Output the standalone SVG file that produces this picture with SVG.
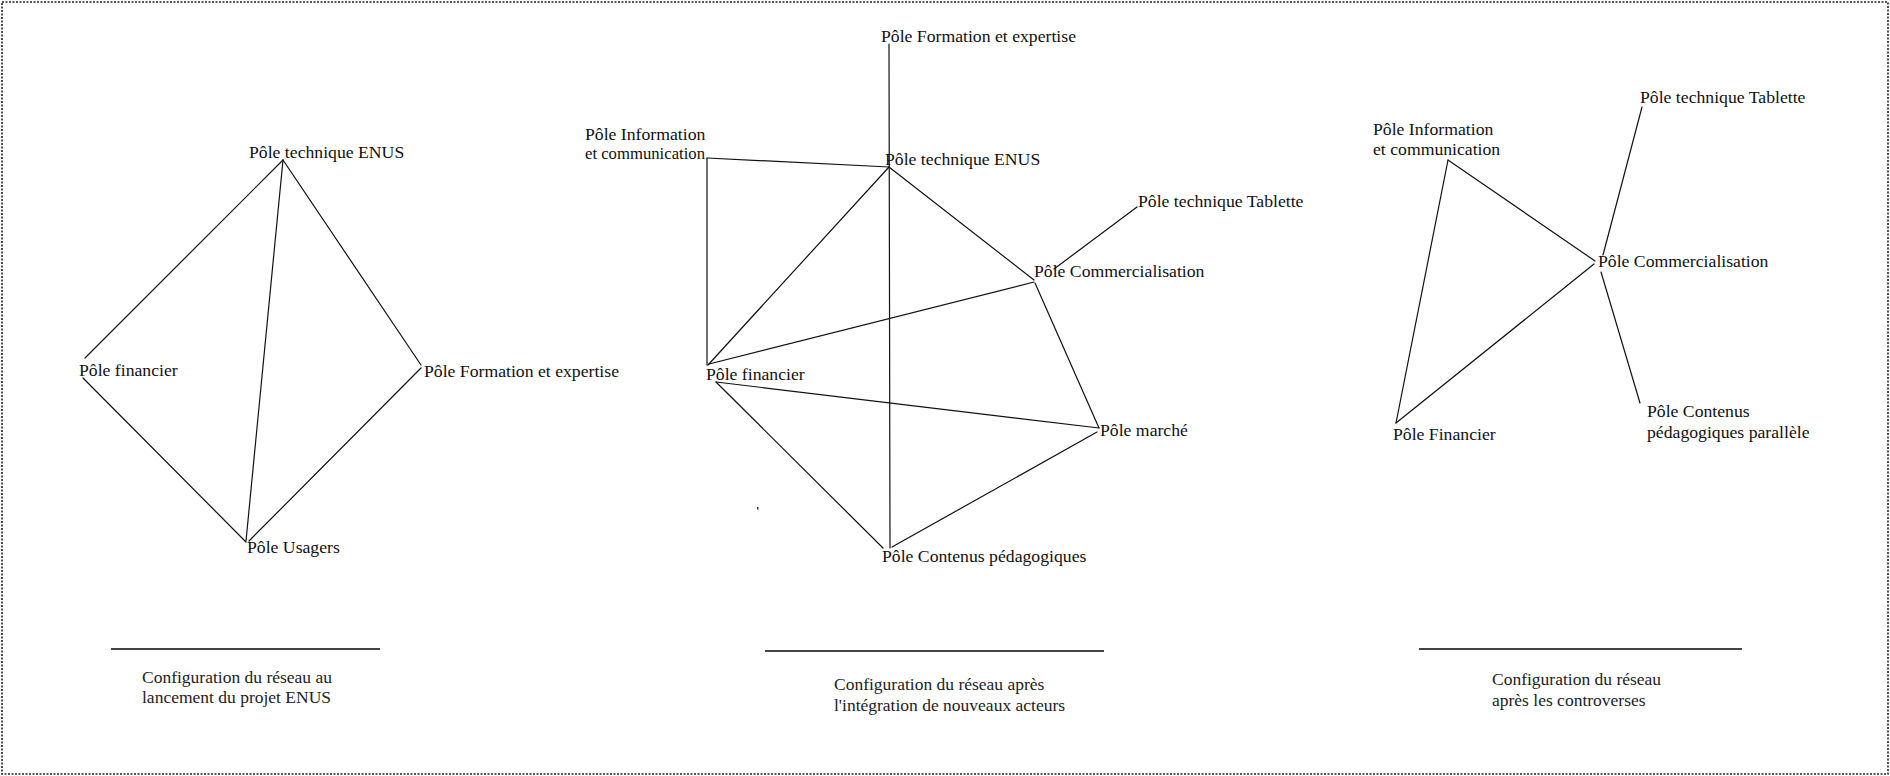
<svg xmlns="http://www.w3.org/2000/svg" width="1890" height="776" viewBox="0 0 1890 776">
<style>
  .lbl { font-family: "Liberation Serif", "Times New Roman", serif; font-size: 17.7px; fill: #111; }
  .cap { font-family: "Liberation Serif", "Times New Roman", serif; font-size: 17.5px; fill: #222; }
  .edge { stroke: #111; stroke-width: 1.2; fill: none; stroke-linecap: round; }
  .rule { stroke: #444; stroke-width: 2; }
  .frame { fill: none; stroke: #222; stroke-width: 1.6; stroke-dasharray: 2 1.5; }
</style>
<rect x="0" y="0" width="1890" height="776" fill="#fff"/>
<rect class="frame" x="2" y="2" width="1886" height="772"/>

<g id="connectors">
  <!-- left diagram -->
  <line class="edge" x1="283" y1="160" x2="85" y2="358"/>
  <line class="edge" x1="83" y1="378" x2="246" y2="542"/>
  <line class="edge" x1="283" y1="160" x2="421" y2="365"/>
  <line class="edge" x1="421" y1="368" x2="249" y2="541"/>
  <line class="edge" x1="283" y1="160" x2="246" y2="541"/>
  <!-- middle diagram -->
  <line class="edge" x1="889" y1="44" x2="890" y2="548"/>
  <line class="edge" x1="707" y1="158" x2="889" y2="167"/>
  <line class="edge" x1="707" y1="158" x2="707" y2="365"/>
  <line class="edge" x1="889" y1="167" x2="708" y2="365"/>
  <line class="edge" x1="889" y1="167" x2="1034" y2="280"/>
  <line class="edge" x1="1137" y1="207" x2="1054" y2="269"/>
  <line class="edge" x1="1034" y1="282" x2="709" y2="364"/>
  <line class="edge" x1="1035" y1="283" x2="1099" y2="428"/>
  <line class="edge" x1="716" y1="382" x2="1099" y2="428"/>
  <line class="edge" x1="716" y1="382" x2="883" y2="548"/>
  <line class="edge" x1="1097" y1="432" x2="892" y2="547"/>
  <!-- right diagram -->
  <line class="edge" x1="1448" y1="160" x2="1595" y2="261"/>
  <line class="edge" x1="1448" y1="160" x2="1396" y2="423"/>
  <line class="edge" x1="1396" y1="423" x2="1594" y2="264"/>
  <line class="edge" x1="1642" y1="107" x2="1603" y2="255"/>
  <line class="edge" x1="1601" y1="272" x2="1640" y2="403"/>
</g>

<!-- left diagram nodes -->
<g id="l-technique-enus"><text class="lbl" x="249" y="158">Pôle technique ENUS</text></g>
<g id="l-financier"><text class="lbl" x="79" y="376">Pôle financier</text></g>
<g id="l-formation"><text class="lbl" x="424" y="377">Pôle Formation et expertise</text></g>
<g id="l-usagers"><text class="lbl" x="247" y="553">Pôle Usagers</text></g>

<!-- middle diagram nodes -->
<g id="m-formation"><text class="lbl" x="881" y="42">Pôle Formation et expertise</text></g>
<g id="m-information"><text class="lbl" x="585" y="140">Pôle Information</text><text class="lbl" x="585" y="159" textLength="120" lengthAdjust="spacingAndGlyphs">et communication</text></g>
<g id="m-technique-enus"><text class="lbl" x="885" y="165">Pôle technique ENUS</text></g>
<g id="m-tablette"><text class="lbl" x="1138" y="207">Pôle technique Tablette</text></g>
<g id="m-commercialisation"><text class="lbl" x="1034" y="277">Pôle Commercialisation</text></g>
<g id="m-financier"><text class="lbl" x="706" y="380">Pôle financier</text></g>
<g id="m-marche"><text class="lbl" x="1100" y="436">Pôle marché</text></g>
<g id="m-contenus"><text class="lbl" x="882" y="562">Pôle Contenus pédagogiques</text></g>
<rect x="757" y="507" width="1.5" height="2.5" fill="#333"/>

<!-- right diagram nodes -->
<g id="r-tablette"><text class="lbl" x="1640" y="103">Pôle technique Tablette</text></g>
<g id="r-information"><text class="lbl" x="1373" y="135">Pôle Information</text><text class="lbl" x="1373" y="155">et communication</text></g>
<g id="r-commercialisation"><text class="lbl" x="1598" y="267">Pôle Commercialisation</text></g>
<g id="r-contenus"><text class="lbl" x="1647" y="417">Pôle Contenus</text><text class="lbl" x="1647" y="438">pédagogiques parallèle</text></g>
<g id="r-financier"><text class="lbl" x="1393" y="440">Pôle Financier</text></g>

<!-- captions -->
<g id="caption-1">
  <line class="rule" x1="111" y1="649" x2="380" y2="649"/>
  <text class="cap" x="142" y="683">Configuration du réseau au</text>
  <text class="cap" x="142" y="703">lancement du projet ENUS</text>
</g>
<g id="caption-2">
  <line class="rule" x1="765" y1="651" x2="1104" y2="651"/>
  <text class="cap" x="834" y="690">Configuration du réseau après</text>
  <text class="cap" x="834" y="711">l'intégration de nouveaux acteurs</text>
</g>
<g id="caption-3">
  <line class="rule" x1="1419" y1="649" x2="1742" y2="649"/>
  <text class="cap" x="1492" y="685">Configuration du réseau</text>
  <text class="cap" x="1492" y="706">après les controverses</text>
</g>
</svg>
